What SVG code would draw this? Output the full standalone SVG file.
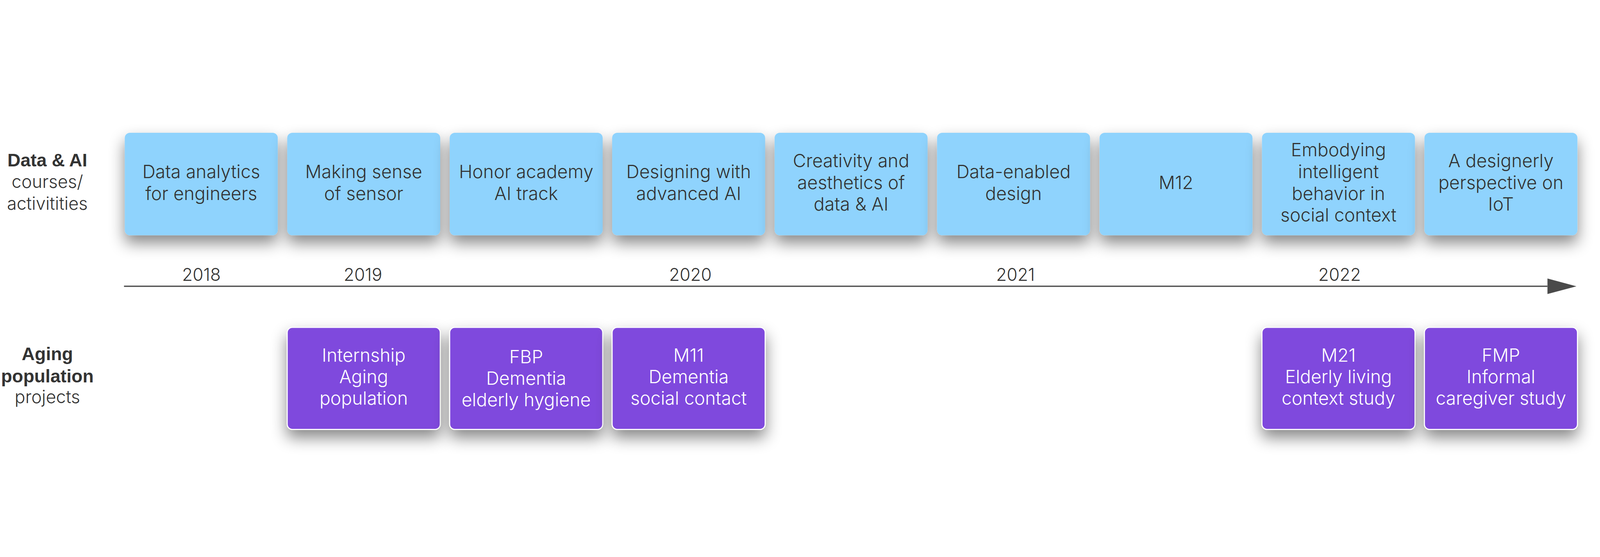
<svg xmlns="http://www.w3.org/2000/svg" width="6181" height="1426" viewBox="0 0 6181 1426">
<defs>
<style>
svg{width:100vw;height:100vh}
.bg{fill:#ffffff}
.blue{fill:#8fd3fd}
.purple{fill:#7f48dd;stroke:#ffffff;stroke-width:4}
.t{font-family:Inter,"Liberation Sans","DejaVu Sans",sans-serif;font-size:70px;font-weight:300;text-anchor:middle}
.yr{font-family:Inter,"Liberation Sans","DejaVu Sans",sans-serif;font-size:67px;font-weight:300;text-anchor:middle;fill:#333333}
.dark{fill:#333333}
.white{fill:#ffffff}
.lbl{font-family:Inter,"Liberation Sans","DejaVu Sans",sans-serif;font-size:68px;font-weight:300;text-anchor:middle;fill:#333333}
.b{font-family:"Liberation Sans",Arial,sans-serif;font-size:70px;font-weight:700}
.axis{stroke:#4a4a4a;stroke-width:5;fill:none}
</style>
<filter id="sh" x="-25%" y="-30%" width="150%" height="175%">
<feDropShadow dx="0" dy="30" stdDeviation="30" flood-color="#000000" flood-opacity="0.47"/>
</filter>
<marker id="ah" viewBox="0 0 112 60" refX="0" refY="30" markerWidth="112" markerHeight="60" markerUnits="userSpaceOnUse" orient="auto">
<path d="M0,0 L112,30 L0,60 Z" fill="#4a4a4a"/>
</marker>
</defs>
<rect class="bg" x="0" y="0" width="6181" height="1426"/>

<g id="row-labels">
<g id="label-data-ai">
<text class="lbl b" x="183" y="280">Data &amp; AI</text>
<text class="lbl" x="183" y="363">courses/</text>
<text class="lbl" x="183" y="447">activitities</text>
</g>
<g id="label-aging">
<text class="lbl b" x="183" y="1029">Aging</text>
<text class="lbl b" x="183" y="1114">population</text>
<text class="lbl" x="183" y="1195">projects</text>
</g>
</g>

<g id="connectors">
<line class="axis" x1="479" y1="743" x2="5978" y2="743" marker-end="url(#ah)"/>
</g>

<g id="years">
<text class="yr" x="778" y="722">2018</text>
<text class="yr" x="1402" y="722">2019</text>
<text class="yr" x="2667" y="722">2020</text>
<text class="yr" x="3923" y="722">2021</text>
<text class="yr" x="5175" y="722">2022</text>
</g>

<g id="course-1"><rect class="blue" filter="url(#sh)" x="482" y="150" width="591" height="396" rx="20"/>
<text class="t dark" x="777.5" y="325">Data analytics</text><text class="t dark" x="777.5" y="409">for engineers</text></g>
<g id="course-2"><rect class="blue" filter="url(#sh)" x="1109.6" y="150" width="591" height="396" rx="20"/>
<text class="t dark" x="1405.1" y="325">Making sense</text><text class="t dark" x="1405.1" y="409">of sensor</text></g>
<g id="course-3"><rect class="blue" filter="url(#sh)" x="1737.2" y="150" width="591" height="396" rx="20"/>
<text class="t dark" x="2032.7" y="325">Honor academy</text><text class="t dark" x="2032.7" y="409">AI track</text></g>
<g id="course-4"><rect class="blue" filter="url(#sh)" x="2364.8" y="150" width="591" height="396" rx="20"/>
<text class="t dark" x="2660.3" y="325">Designing with</text><text class="t dark" x="2660.3" y="409">advanced AI</text></g>
<g id="course-5"><rect class="blue" filter="url(#sh)" x="2992.4" y="150" width="591" height="396" rx="20"/>
<text class="t dark" x="3287.9" y="283">Creativity and</text><text class="t dark" x="3287.9" y="367">aesthetics of</text><text class="t dark" x="3287.9" y="451">data &amp; AI</text></g>
<g id="course-6"><rect class="blue" filter="url(#sh)" x="3620" y="150" width="591" height="396" rx="20"/>
<text class="t dark" x="3915.5" y="325">Data-enabled</text><text class="t dark" x="3915.5" y="409">design</text></g>
<g id="course-7"><rect class="blue" filter="url(#sh)" x="4247.6" y="150" width="591" height="396" rx="20"/>
<text class="t dark" x="4543.1" y="367">M12</text></g>
<g id="course-8"><rect class="blue" filter="url(#sh)" x="4875.2" y="150" width="591" height="396" rx="20"/>
<text class="t dark" x="5170.7" y="241">Embodying</text><text class="t dark" x="5170.7" y="325">intelligent</text><text class="t dark" x="5170.7" y="409">behavior in</text><text class="t dark" x="5170.7" y="493">social context</text></g>
<g id="course-9"><rect class="blue" filter="url(#sh)" x="5502.8" y="150" width="591" height="396" rx="20"/>
<text class="t dark" x="5798.3" y="283">A designerly</text><text class="t dark" x="5798.3" y="367">perspective on</text><text class="t dark" x="5798.3" y="451">IoT</text></g>

<g id="project-1"><rect class="purple" filter="url(#sh)" x="1109.6" y="902" width="591" height="394" rx="20"/>
<text class="t white" x="1405.1" y="1034">Internship</text><text class="t white" x="1405.1" y="1117">Aging</text><text class="t white" x="1405.1" y="1201">population</text></g>
<g id="project-2"><rect class="purple" filter="url(#sh)" x="1737.2" y="902" width="591" height="394" rx="20"/>
<text class="t white" x="2032.7" y="1040">FBP</text><text class="t white" x="2032.7" y="1123">Dementia</text><text class="t white" x="2032.7" y="1207">elderly hygiene</text></g>
<g id="project-3"><rect class="purple" filter="url(#sh)" x="2364.8" y="902" width="591" height="394" rx="20"/>
<text class="t white" x="2660.3" y="1034">M11</text><text class="t white" x="2660.3" y="1117">Dementia</text><text class="t white" x="2660.3" y="1201">social contact</text></g>
<g id="project-4"><rect class="purple" filter="url(#sh)" x="4875.2" y="902" width="591" height="394" rx="20"/>
<text class="t white" x="5170.7" y="1034">M21</text><text class="t white" x="5170.7" y="1117">Elderly living</text><text class="t white" x="5170.7" y="1201">context study</text></g>
<g id="project-5"><rect class="purple" filter="url(#sh)" x="5502.8" y="902" width="591" height="394" rx="20"/>
<text class="t white" x="5798.3" y="1034">FMP</text><text class="t white" x="5798.3" y="1117">Informal</text><text class="t white" x="5798.3" y="1201">caregiver study</text></g>
</svg>
